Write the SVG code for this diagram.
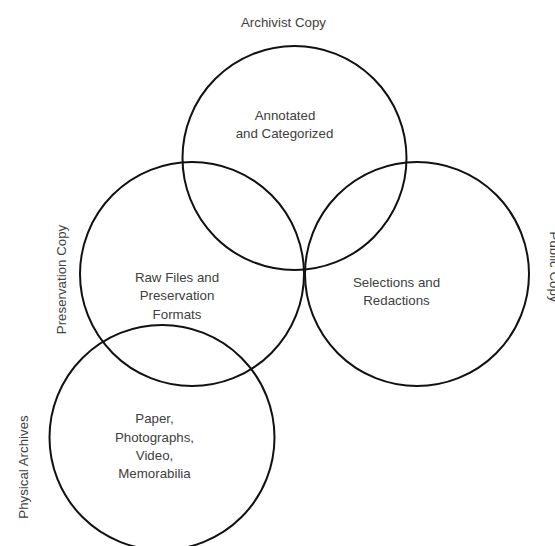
<svg xmlns="http://www.w3.org/2000/svg" width="555" height="546" viewBox="0 0 555 546">
  <style>
    .ring { fill: none; stroke: #111; stroke-width: 2; }
    .lbl { font-family: "Liberation Sans", Arial, sans-serif; font-size: 13.3px; fill: #404040; text-anchor: middle; }
  </style>
  <rect width="555" height="546" fill="#ffffff"/>
  <g id="archivist">
    <circle class="ring" cx="294.5" cy="158" r="112"/>
    <text class="lbl" x="283.5" y="27">Archivist Copy</text>
    <text class="lbl" x="285" y="120">Annotated</text>
    <text class="lbl" x="284.5" y="137.5">and Categorized</text>
  </g>
  <g id="preservation">
    <circle class="ring" cx="192" cy="274" r="112"/>
    <text class="lbl" transform="translate(66,279.5) rotate(-90)">Preservation Copy</text>
    <text class="lbl" x="177" y="281.5">Raw Files and</text>
    <text class="lbl" x="177" y="300">Preservation</text>
    <text class="lbl" x="177" y="318.5">Formats</text>
  </g>
  <g id="public">
    <circle class="ring" cx="417" cy="274" r="112"/>
    <text class="lbl" transform="translate(549.5,267) rotate(90)">Public Copy</text>
    <text class="lbl" x="396.5" y="286.5">Selections and</text>
    <text class="lbl" x="396.5" y="305">Redactions</text>
  </g>
  <g id="physical">
    <circle class="ring" cx="162" cy="437.5" r="112.5"/>
    <text class="lbl" transform="translate(28,467) rotate(-90)">Physical Archives</text>
    <text class="lbl" x="154.5" y="423.3">Paper,</text>
    <text class="lbl" x="154.5" y="441.7">Photographs,</text>
    <text class="lbl" x="154.5" y="460">Video,</text>
    <text class="lbl" x="154.5" y="478.3">Memorabilia</text>
  </g>
  <g id="connectors"></g>
</svg>
